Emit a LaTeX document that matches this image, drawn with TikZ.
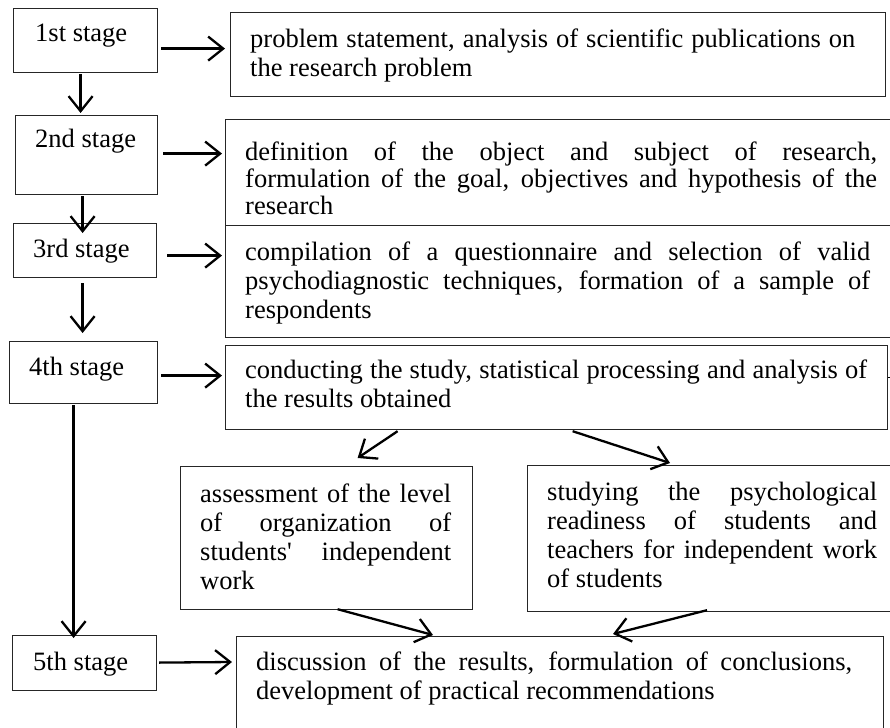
\documentclass[tikz,border=0pt]{standalone}
\usepackage{fontspec}
\setmainfont{Liberation Serif}[Ligatures=TeXOff]
\usetikzlibrary{arrows.meta}
\tolerance=10000
\hyphenpenalty=10000
\hbadness=10000
\begin{document}
\begin{tikzpicture}[x=1pt,y=-1pt,
  box/.style={draw=black!85, line width=1.2pt, inner sep=0pt, anchor=north west},
  txt/.style={inner sep=0pt, anchor=north west, align=justify,
    font=\fontsize{26.5}{29}\selectfont},
  lbl/.style={inner sep=0pt, anchor=base west, font=\fontsize{26.5}{29}\selectfont},
  arr/.style={line width=2.3pt, -{Straight Barb[length=15pt,width=24pt]}}
]
\clip (0,0) rectangle (890,727);
\fill[white] (0,0) rectangle (890,727);

% stage boxes
\node[box, minimum width=144pt, minimum height=64pt] (s1) at (13,8) {};
\node[box, minimum width=142pt, minimum height=79pt] (s2) at (15,115) {};
\node[box, minimum width=143pt, minimum height=54pt] (s3) at (13,223) {};
\node[box, minimum width=148pt, minimum height=62pt] (s4) at (9,341) {};
\node[box, minimum width=144pt, minimum height=55pt] (s5) at (12,635) {};

\node[lbl] (l1) at (35,42) {1st stage};
\node[lbl] (l2) at (35,148) {2nd stage};
\node[lbl] (l3) at (33,257) {3rd stage};
\node[lbl] (l4) at (29,375) {4th stage};
\node[lbl] (l5) at (33,670) {5th stage};

% right boxes
\node[box, minimum width=655pt, minimum height=84pt] (r1) at (230,12) {};
\node[box, minimum width=700pt, minimum height=106pt] (r2) at (225,119) {};
\node[box, minimum width=700pt, minimum height=112pt] (r3) at (225,225) {};
\node[box, minimum width=662pt, minimum height=84pt] (r4) at (225,345) {};
\node[box, minimum width=292pt, minimum height=143pt] (bA) at (180,466) {};
\node[box, minimum width=400pt, minimum height=146pt] (bB) at (527,465) {};
\node[box, minimum width=647pt, minimum height=150pt] (rF) at (236,636) {};

\node[txt, text width=605pt] (t1) at (250,26.7) {\strut problem statement, analysis of scientific publications on\linebreak the research problem};
\node[txt, text width=632pt, font=\fontsize{26.5}{26.5}\selectfont] (t2) at (245,141.4) {\strut definition of the object and subject of research,\linebreak formulation of the goal, objectives and hypothesis of the\linebreak research};
\node[txt, text width=625pt] (t3) at (245,239.7) {\strut compilation of a questionnaire and selection of valid\linebreak psychodiagnostic techniques, formation of a sample of\linebreak respondents};
\node[txt, text width=622pt] (t4) at (245,357.7) {\strut conducting the study, statistical processing and analysis of\linebreak the results obtained};
\node[txt, text width=251pt] (tA) at (200,481.5) {\strut assessment of the level\linebreak of organization of\linebreak students' independent\linebreak work};
\node[txt, text width=330pt] (tB) at (547,480) {\strut studying the psychological\linebreak readiness of students and\linebreak teachers for independent work\linebreak of students};
\node[txt, text width=596pt] (tF) at (256,649.7) {\strut discussion of the results, formulation of conclusions,\linebreak development of practical recommendations};

% vertical arrows
\draw[arr] ([shift={(-5,1)}]s1.south) -- ([shift={(-6,-2)}]s2.north);
\draw[arr] ([shift={(-4,1)}]s2.south) -- ([shift={(-2.5,10)}]s3.north);
\draw[arr] ([shift={(-2.5,5)}]s3.south) -- ([shift={(-1,-8)}]s4.north);
\draw[arr] ([shift={(-10,1)}]s4.south) -- ([shift={(-11,3)}]s5.north);

% horizontal arrows
\draw[arr] ([shift={(3,8)}]s1.east) -- ([shift={(-5,-6)}]r1.west);
\draw[arr] ([shift={(5,-1.5)}]s2.east) -- ([shift={(-3,-19)}]r2.west);
\draw[arr] ([shift={(10,5)}]s3.east) -- ([shift={(-3,-26)}]r3.west);
\draw[arr] ([shift={(3,3)}]s4.east) -- ([shift={(-3,-12)}]r4.west);
\draw[arr] ([shift={(2,-0.5)}]s5.east) -- ([shift={(-4,26)}]rF.north west);

% diagonal arrows
\draw[arr] ([shift={(-159,1)}]r4.south) -- ([shift={(31,-8)}]bA.north);
\draw[arr] ([shift={(16,1)}]r4.south) -- ([shift={(143,-2)}]bB.north west);
\draw[arr] ([shift={(11,-1)}]bA.south) -- ([shift={(197,-1)}]rF.north west);
\draw[arr] ([shift={(180,-2)}]bB.south west) -- ([shift={(377,-2)}]rF.north west);

% small stub at right of box 4
\draw[line width=1pt] ([shift={(0,-10)}]r4.east) -- ([shift={(4,-10)}]r4.east);
\end{tikzpicture}
\end{document}
